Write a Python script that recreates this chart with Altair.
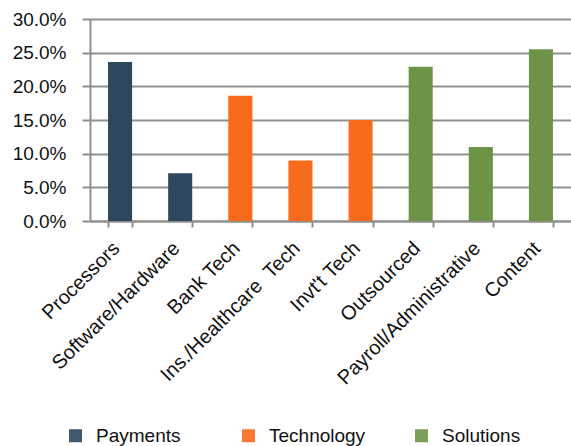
import altair as alt
import pandas as pd

categories = ["Processors", "Software/Hardware", "Bank Tech", "Ins./Healthcare\u00a0 Tech",
              "Invt't Tech", "Outsourced", "Payroll/Administrative", "Content"]
groups = ["Payments", "Payments", "Technology", "Technology", "Technology",
          "Solutions", "Solutions", "Solutions"]
values = [0.236, 0.071, 0.186, 0.090, 0.150, 0.229, 0.110, 0.255]

group_order = ["Payments", "Technology", "Solutions"]
group_colors = ["#2E4760", "#F96B1C", "#6E9346"]
y_ticks = [0, 0.05, 0.10, 0.15, 0.20, 0.25, 0.30]

df = pd.DataFrame({"category": categories, "group": groups, "value": values})

font = "Liberation Sans"
grid_color = "#8f8f8f"

chart = alt.Chart(df).mark_bar().encode(
    x=alt.X("category:N", sort=categories,
            scale=alt.Scale(paddingInner=0.6, paddingOuter=0.3),
            axis=alt.Axis(title=None, labelAngle=315, labelAlign="right", labelBaseline="middle",
                          labelFontSize=20, labelFont=font, labelColor="#111", labelLimit=400,
                          labelOffset=-4,
                          tickBand="extent", tickSize=6, tickColor=grid_color, tickWidth=2,
                          domainColor=grid_color, domainWidth=2, labelPadding=18, grid=False)),
    y=alt.Y("value:Q", scale=alt.Scale(domain=[0, 0.3]),
            axis=alt.Axis(title=None, values=y_ticks, format=".1%",
                          labelFontSize=19, labelFont=font, labelColor="#111",
                          tickSize=8, tickColor=grid_color, tickWidth=2, labelPadding=16,
                          domainColor=grid_color, domainWidth=2,
                          grid=True, gridColor=grid_color, gridWidth=2)),
    color=alt.Color("group:N", scale=alt.Scale(domain=group_order, range=group_colors),
                    legend=alt.Legend(title=None, orient="none", legendX=-24, legendY=407,
                                      direction="horizontal", columns=3, gridAlign="all",
                                      columnPadding=46, symbolType="square", symbolSize=169,
                                      symbolStrokeWidth=0, symbolOpacity=0.9,
                                      labelFontSize=19, labelFont=font, labelColor="#111",
                                      labelOffset=11, padding=0)),
).properties(
    width=481, height=202,
    autosize=alt.AutoSizeParams(type="none"),
    padding={"left": 90, "top": 19, "right": 0, "bottom": 225},
).configure_view(stroke=None).configure(background="white")

chart.save("out.html", embed_options={"renderer": "svg", "actions": False})
